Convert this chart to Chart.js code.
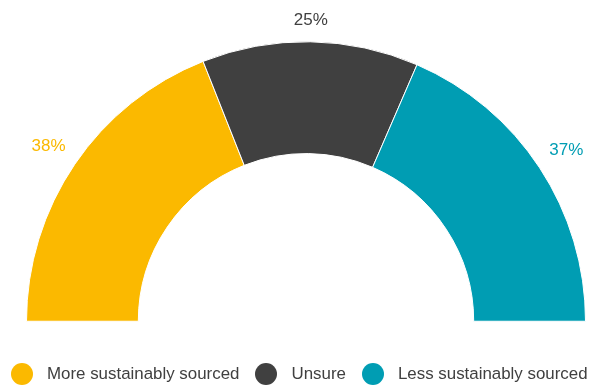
<!DOCTYPE html>
<html lang="en">
<head>
    <meta charset="UTF-8">
    <style>
        * {
            box-sizing: border-box;
            margin: 0;
            padding: 0;
        }

        body {
            background: #fff;
            width: 597px;
            height: 387px;
            overflow: hidden;
            font-family: "Liberation Sans", Arial, sans-serif;
        }

        .chart-wrap {
            position: relative;
            width: 597px;
            height: 387px;
        }

        #sourcing {
            display: block;
            width: 597px;
            height: 387px;
        }

        .legend {
            position: absolute;
            left: 11px;
            top: 363px;
            display: flex;
            align-items: center;
            font-size: 16.9px;
            color: #404040;
            white-space: nowrap;
        }

        .legend-item {
            display: flex;
            align-items: center;
            margin-right: 16px;
        }

        .legend-dot {
            width: 22px;
            height: 22px;
            border-radius: 50%;
            margin-right: 14px;
        }
    </style>
</head>
<body>
    <div class="chart-wrap">
        <canvas id="sourcing" width="597" height="387"></canvas>
        <div class="legend" id="legend"></div>
    </div>

    <script src="https://cdn.jsdelivr.net/npm/chart.js@4.4.0/dist/chart.umd.min.js"></script>
    <script>
        const categories = ['More sustainably sourced', 'Unsure', 'Less sustainably sourced'];
        const shares = [38, 25, 37];
        const colours = ['#FBB900', '#404040', '#009DB3'];

        // percentage labels just outside each arc, in the arc's own colour;
        // the text box is pushed out so its nearest edge sits a fixed gap from the arc
        const outsideLabels = {
            id: 'outsideLabels',
            afterDatasetsDraw(chart) {
                const ctx = chart.ctx;
                const arcs = chart.getDatasetMeta(0).data;
                const gap = 13;
                const textH = 17;
                ctx.save();
                ctx.font = '17px "Liberation Sans", Arial, sans-serif';
                ctx.textAlign = 'center';
                ctx.textBaseline = 'middle';
                arcs.forEach((arc, i) => {
                    const p = arc.getProps(['x', 'y', 'startAngle', 'endAngle', 'outerRadius'], true);
                    const mid = (p.startAngle + p.endAngle) / 2;
                    const text = shares[i] + '%';
                    const w = ctx.measureText(text).width;
                    const cos = Math.cos(mid);
                    const sin = Math.sin(mid);
                    const r = p.outerRadius + gap + Math.abs(cos) * w / 2 + Math.abs(sin) * textH / 2;
                    ctx.fillStyle = colours[i];
                    ctx.fillText(text, p.x + cos * r, p.y + sin * r);
                });
                ctx.restore();
            }
        };

        new Chart(document.getElementById('sourcing'), {
            type: 'doughnut',
            data: {
                labels: categories,
                datasets: [{
                    data: shares,
                    backgroundColor: colours,
                    borderColor: '#fff',
                    borderWidth: 1
                }]
            },
            options: {
                responsive: false,
                animation: false,
                rotation: -90,
                circumference: 180,
                cutout: '60%',
                layout: {
                    padding: { left: 26, right: 11, top: 41, bottom: 65 }
                },
                plugins: {
                    legend: { display: false },
                    tooltip: { enabled: false }
                }
            },
            plugins: [outsideLabels]
        });

        // legend under the arc
        const legend = document.getElementById('legend');
        categories.forEach((name, i) => {
            const item = document.createElement('div');
            item.className = 'legend-item';
            item.innerHTML = '<span class="legend-dot" style="background:' + colours[i] + '"></span><span>' + name + '</span>';
            legend.appendChild(item);
        });
    </script>
</body>
</html>
